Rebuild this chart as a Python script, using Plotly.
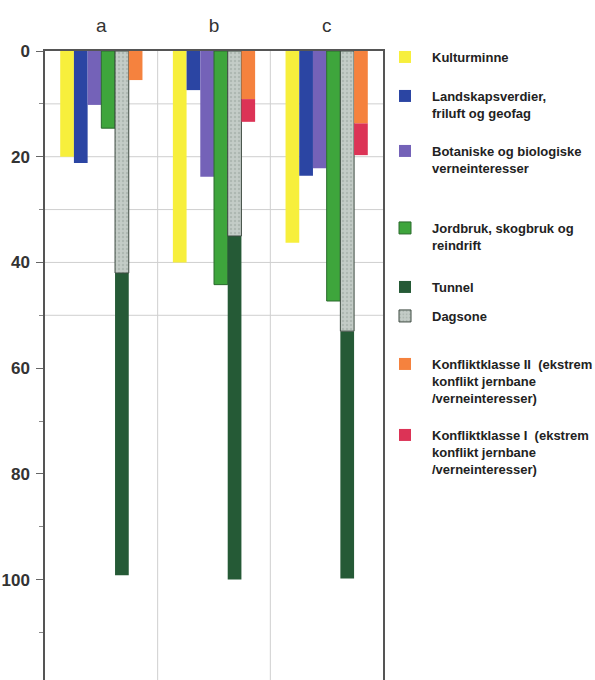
import plotly.graph_objects as go

groups = ["a", "b", "c"]
kulturminne = [20, 40, 36.3]
landskap = [21.2, 7.4, 23.6]
botaniske = [10.2, 23.8, 22.2]
jordbruk = [14.6, 44.2, 47.3]
dagsone = [42, 35, 53]
tunnel = [57.2, 65, 46.8]
konflikt2 = [5.5, 9.1, 13.7]
konflikt1 = [0, 4.3, 6.0]
y_ticks = [0, 20, 40, 60, 80, 100]

names = [
    "Kulturminne",
    "Landskapsverdier,<br>friluft og geofag",
    "Botaniske og biologiske<br>verneinteresser",
    "Jordbruk, skogbruk og<br>reindrift",
    "Tunnel",
    "Dagsone",
    "Konfliktklasse II  (ekstrem<br>konflikt jernbane<br>/verneinteresser)",
    "Konfliktklasse I  (ekstrem<br>konflikt jernbane<br>/verneinteresser)",
]

W, H = 595, 680
L, R, T = 45, 383, 51
B = H

def px(p):
    return (p - L) / (R - L)

def py(p):
    return 1 - (p - T) / (B - T)

legend_first_line = [58, 97, 152, 229, 288, 317, 365, 436]

fig = go.Figure()

def add(name, y, color, og, idx, base=None, line_color=None, pattern=None):
    marker = dict(color=color, line=dict(color=line_color or color, width=1 if line_color else 0))
    if pattern:
        marker["pattern"] = pattern
    fig.add_trace(go.Bar(
        x=groups, y=y, base=base, name=name, offsetgroup=og,
        marker=marker, legend="legend" if idx == 1 else f"legend{idx}",
        showlegend=True,
    ))

add(names[0], kulturminne, "#f7ef3c", "1", 1)
add(names[1], landskap, "#2b45a3", "2", 2)
add(names[2], botaniske, "#7462b8", "3", 3)
add(names[3], jordbruk, "#3ea53c", "4", 4, line_color="#2a6a2c")
add(names[4], tunnel, "#255a36", "5", 5, base=dagsone)
add(names[5], dagsone, "#bcc6c0", "5", 6, line_color="#3d4a40",
    pattern=dict(shape=".", fgcolor="#98a39c", bgcolor="#c4ccc7", size=4, solidity=0.3))
add(names[6], konflikt2, "#f5823e", "6", 7)
add(names[7], konflikt1, "#dc3356", "6", 8, base=konflikt2)

layout = dict(
    width=W, height=H,
    margin=dict(l=L, r=W - R, t=T, b=0, autoexpand=False),
    paper_bgcolor="white", plot_bgcolor="white",
    barmode="group", bargap=0.27, bargroupgap=0,
    font=dict(family="Liberation Sans, Arial, sans-serif", color="#333"),
    xaxis=dict(
        type="category", side="top", range=[-0.5, 2.5],
        showgrid=False, ticks="", showline=True, mirror=True,
        linecolor="#555", linewidth=1.5,
        tickfont=dict(size=19, color="#333"), ticklabelstandoff=10,
    ),
    yaxis=dict(
        range=[119, 0], tickvals=y_ticks, showgrid=False, zeroline=False,
        showline=True, mirror=True, linecolor="#555", linewidth=1.5,
        ticks="outside", ticklen=7, tickcolor="#666", tickwidth=1,
        tickfont=dict(size=17, color="#333", weight="bold"), ticklabelstandoff=3,
        minor=dict(ticks="outside", ticklen=4, dtick=10, tick0=0, tickcolor="#888", showgrid=False),
    ),
    shapes=[
        dict(type="line", xref="x", yref="y", x0=v, x1=v, y0=0, y1=119,
             line=dict(color="#cfcfcf", width=1), layer="below")
        for v in [0.5, 1.5]
    ] + [
        dict(type="line", xref="paper", yref="y", x0=0, x1=1, y0=g, y1=g,
             line=dict(color="#cfcfcf", width=1), layer="below")
        for g in [10, 20, 30, 40, 50]
    ],
)

for i, yc in enumerate(legend_first_line, start=1):
    key = "legend" if i == 1 else f"legend{i}"
    layout[key] = dict(
        x=px(378), y=py(yc - 16), xanchor="left", yanchor="top",
        bgcolor="rgba(0,0,0,0)", valign="top", itemwidth=44,
        font=dict(size=13, color="#222", family="Liberation Sans, Arial, sans-serif", weight="bold"),
        tracegroupgap=0,
    )

fig.update_layout(**layout)
fig.write_html("out.html", config={"displayModeBar": False},
               post_script="document.body.style.margin='0px';")
